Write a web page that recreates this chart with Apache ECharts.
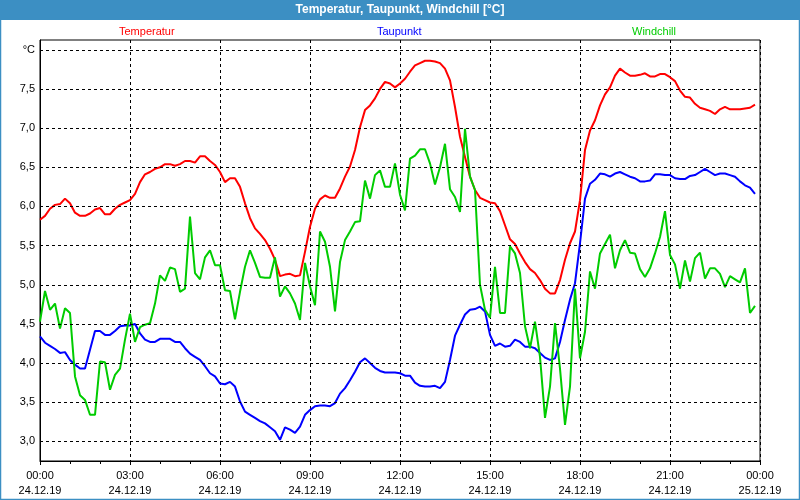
<!DOCTYPE html>
<html>
<head>
<meta charset="utf-8">
<script src="https://cdn.jsdelivr.net/npm/echarts@6/dist/echarts.min.js"></script>
<style>
html,body{margin:0;padding:0;background:#fff;}
#chart{width:800px;height:500px;}
</style>
</head>
<body>
<div id="chart"></div>
<script>
// ---- data (10-minute readings, 24.12.19 00:00 .. 23:50) ----
const STEP_MIN = 10;
const temperatur = [
5.83,5.88,5.97,6.02,6.03,6.10,6.04,5.92,5.88,5.88,5.91,5.96,5.98,5.90,5.90,5.97,6.02,6.05,6.08,6.16,6.31,6.41,6.44,6.48,
6.50,6.54,6.54,6.52,6.54,6.58,6.58,6.56,6.64,6.64,6.58,6.53,6.44,6.31,6.36,6.36,6.25,6.04,5.85,5.72,5.65,5.57,5.46,5.32,
5.11,5.13,5.14,5.11,5.12,5.42,5.74,5.97,6.09,6.14,6.11,6.11,6.23,6.38,6.51,6.72,7.01,7.23,7.29,7.38,7.50,7.59,7.57,7.52,
7.57,7.63,7.72,7.80,7.83,7.86,7.86,7.85,7.83,7.76,7.61,7.27,6.89,6.63,6.38,6.21,6.11,6.08,6.05,6.04,5.94,5.76,5.58,5.52,
5.40,5.29,5.20,5.15,5.06,4.95,4.89,4.89,5.06,5.32,5.53,5.68,6.08,6.72,6.97,7.10,7.29,7.43,7.52,7.67,7.76,7.71,7.67,7.67,
7.68,7.70,7.66,7.66,7.69,7.69,7.65,7.60,7.48,7.40,7.39,7.31,7.26,7.24,7.22,7.18,7.24,7.27,7.24,7.24,7.24,7.25,7.26,7.30
];
const taupunkt = [
4.34,4.26,4.22,4.18,4.13,4.14,4.04,3.98,3.93,3.93,4.17,4.41,4.41,4.36,4.36,4.41,4.47,4.48,4.48,4.50,4.38,4.30,4.27,4.27,
4.31,4.31,4.31,4.27,4.27,4.19,4.12,4.08,4.04,3.96,3.87,3.83,3.74,3.73,3.76,3.70,3.51,3.38,3.34,3.30,3.26,3.23,3.18,3.13,
3.02,3.18,3.15,3.11,3.19,3.34,3.40,3.45,3.46,3.46,3.45,3.49,3.61,3.68,3.78,3.89,4.01,4.06,4.00,3.94,3.90,3.88,3.88,3.88,
3.87,3.84,3.84,3.75,3.71,3.70,3.70,3.71,3.68,3.76,4.04,4.35,4.49,4.62,4.68,4.69,4.72,4.66,4.36,4.22,4.25,4.21,4.22,4.30,
4.27,4.21,4.21,4.19,4.13,4.07,4.04,4.06,4.27,4.55,4.81,5.02,5.53,6.10,6.29,6.34,6.42,6.41,6.38,6.42,6.44,6.41,6.38,6.36,
6.32,6.32,6.33,6.41,6.41,6.40,6.40,6.36,6.35,6.35,6.39,6.40,6.44,6.48,6.44,6.40,6.42,6.42,6.40,6.38,6.32,6.27,6.24,6.16
];
const windchill = [
4.53,4.92,4.68,4.76,4.44,4.70,4.64,3.83,3.59,3.53,3.34,3.34,4.02,4.01,3.66,3.85,3.93,4.30,4.63,4.27,4.46,4.49,4.51,4.76,
5.12,5.05,5.22,5.20,4.91,4.95,5.87,5.15,5.07,5.35,5.44,5.25,5.25,4.93,4.92,4.56,4.91,5.23,5.44,5.28,5.10,5.09,5.09,5.35,
4.85,4.98,4.89,4.76,4.55,5.28,4.98,4.74,5.68,5.55,5.23,4.66,5.29,5.57,5.68,5.80,5.81,6.33,6.10,6.40,6.46,6.25,6.25,6.55,
6.15,5.95,6.61,6.65,6.73,6.73,6.55,6.28,6.50,6.80,6.22,6.12,5.93,6.99,6.38,6.21,5.00,4.68,4.58,5.23,4.64,4.64,5.49,5.40,
5.15,4.47,4.19,4.53,4.08,3.30,3.70,4.51,3.93,3.21,3.70,4.95,4.06,4.40,5.17,4.95,5.40,5.52,5.64,5.21,5.44,5.57,5.41,5.40,
5.20,5.10,5.21,5.40,5.61,5.94,5.38,5.26,4.95,5.31,5.04,5.34,5.41,5.08,5.21,5.21,5.14,4.97,5.11,5.07,5.03,5.21,4.64,4.73
];
const timeLabels = ['00:00','03:00','06:00','09:00','12:00','15:00','18:00','21:00','00:00'];
const dateLabels = ['24.12.19','24.12.19','24.12.19','24.12.19','24.12.19','24.12.19','24.12.19','24.12.19','25.12.19'];
const yGridValues = [3.0,3.5,4.0,4.5,5.0,5.5,6.0,6.5,7.0,7.5,8.0];
const seriesNames = ['Temperatur','Taupunkt','Windchill'];
const seriesColors = ['#ff0000','#0000ff','#00cc00'];
const titleText = 'Temperatur, Taupunkt, Windchill [°C]';
const unitLabel = '°C';

const FONT = '"Liberation Sans", Arial, sans-serif';
const toPairs = arr => arr.map((v, i) => [i * STEP_MIN, v]);

const chart = echarts.init(document.getElementById('chart'), null, {renderer: 'canvas'});

const legendLefts = [114, 372, 627];

const option = {
  animation: false,
  backgroundColor: '#ffffff',
  graphic: [
    {type: 'rect', z: 0, silent: true, shape: {x: 0, y: 0, width: 800, height: 20}, style: {fill: '#3c8fc3'}},
    {type: 'rect', z: 0, silent: true, shape: {x: 0.5, y: 0.5, width: 799, height: 499}, style: {fill: 'none', stroke: '#3c8fc3', lineWidth: 1.5}},
    {type: 'text', z: 10, silent: true, x: 400, y: 10, style: {text: titleText, fill: '#ffffff', font: 'bold 12px ' + FONT, align: 'center', verticalAlign: 'middle'}}
  ],
  legend: seriesNames.map((n, i) => ({
    data: [{name: n, textStyle: {color: seriesColors[i]}}],
    left: legendLefts[i], top: 25, padding: 0,
    itemWidth: 0, itemHeight: 14, itemGap: 0, icon: 'none',
    selectedMode: false,
    textStyle: {fontFamily: FONT, fontSize: 11}
  })),
  grid: {left: 40, right: 40, top: 40, bottom: 39, show: true, borderColor: '#000', borderWidth: 1, backgroundColor: '#fff'},
  xAxis: {
    type: 'value', min: 0, max: 1440, interval: 180,
    axisLine: {show: true, lineStyle: {color: '#000', width: 1}},
    axisTick: {show: true, length: 4, lineStyle: {color: '#000'}},
    minorTick: {show: true, splitNumber: 3, length: 3, lineStyle: {color: '#000'}},
    splitLine: {show: true, lineStyle: {color: '#000', type: [3, 3], width: 1}},
    axisLabel: {
      color: '#000', fontFamily: FONT, fontSize: 11, lineHeight: 15, margin: 7,
      formatter: v => { const k = Math.round(v / 180); return timeLabels[k] + '\n' + dateLabels[k]; }
    }
  },
  yAxis: {
    type: 'value', min: 2.75, max: 8.125, interval: 0.25,
    axisLine: {show: true, lineStyle: {color: '#000', width: 1}},
    axisTick: {show: false},
    splitLine: {show: false},
    axisLabel: {
      color: '#000', fontFamily: FONT, fontSize: 11, margin: 5,
      formatter: v => {
        const twice = v * 2;
        if (Math.abs(twice - Math.round(twice)) > 1e-6 || v < 2.99) return '';
        if (Math.abs(v - 8) < 1e-6) return unitLabel;
        return v.toFixed(1).replace('.', ',');
      }
    }
  },
  series: [
    {
      name: '_grid', type: 'line', data: [], z: 1, silent: true,
      markLine: {
        silent: true, symbol: 'none', animation: false, label: {show: false},
        lineStyle: {color: '#000', type: [3, 3], width: 1},
        emphasis: {disabled: true},
        data: yGridValues.map(v => ({yAxis: v}))
      }
    },
    ...seriesNames.map((n, i) => ({
      name: n, type: 'line', z: 3,
      data: toPairs([temperatur, taupunkt, windchill][i]),
      showSymbol: false, symbol: 'none', smooth: false,
      lineStyle: {color: seriesColors[i], width: 2},
      itemStyle: {color: seriesColors[i]}
    }))
  ]
};
chart.setOption(option);
</script>
</body>
</html>
